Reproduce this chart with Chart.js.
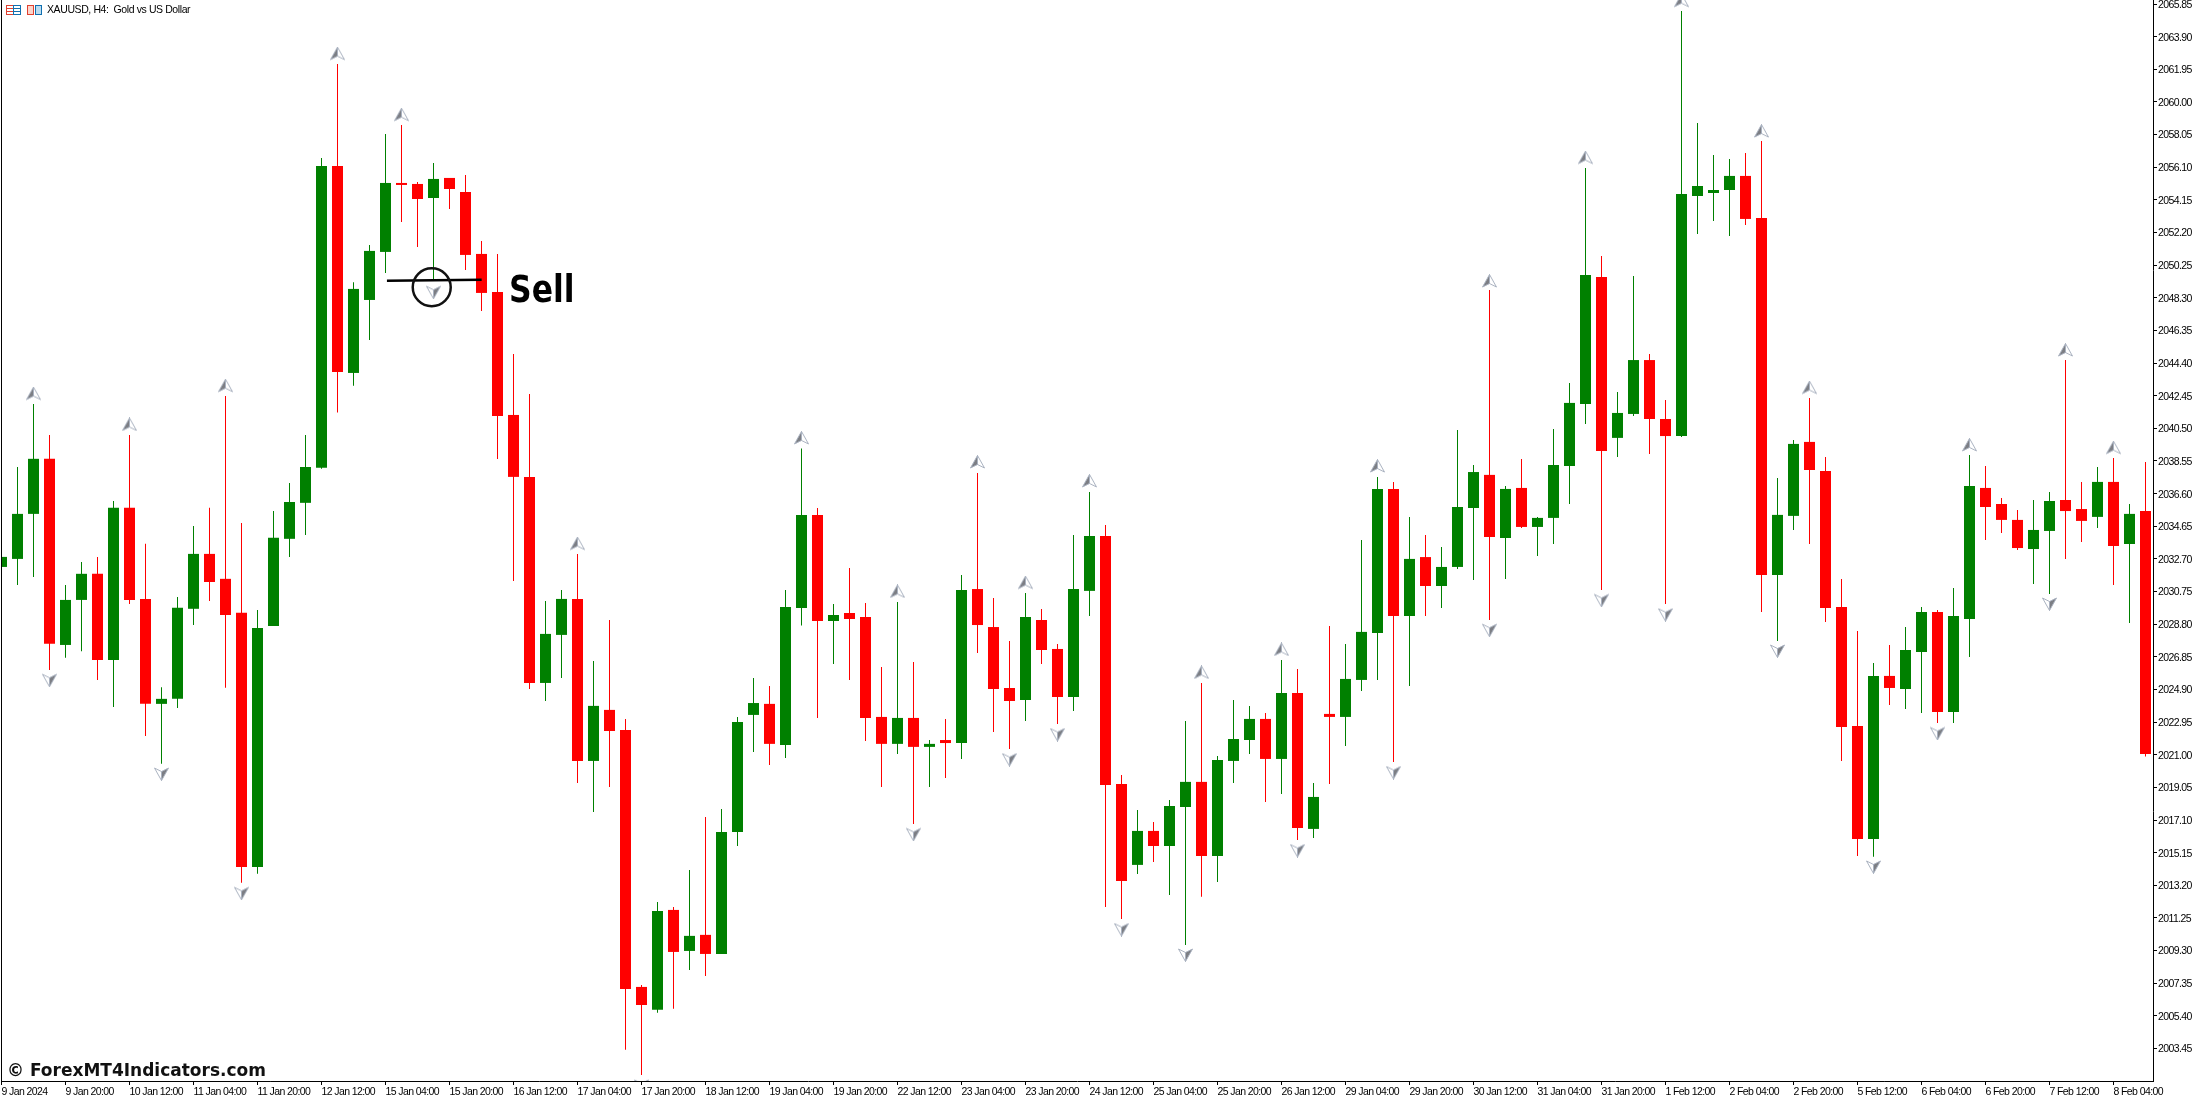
<!DOCTYPE html>
<html>
<head>
<meta charset="utf-8">
<title>XAUUSD, H4</title>
<script src="https://cdn.jsdelivr.net/npm/chart.js@4/dist/chart.umd.min.js"></script>
<style>
  html, body { margin: 0; padding: 0; background: #fff; }
  canvas { display: block; }
</style>
</head>
<body>
<canvas id="chart" width="2196" height="1100"></canvas>
<script>
const opens = [2032.22,2032.70,2035.39,2038.68,2027.56,2030.25,2031.81,2026.66,2035.75,2030.31,
  2024.04,2024.34,2029.72,2033.00,2031.51,2029.48,2014.29,2028.69,2033.90,2036.05,
  2038.14,2056.17,2043.81,2048.17,2051.04,2055.16,2055.10,2054.26,2055.46,2054.62,
  2050.92,2048.65,2041.30,2037.60,2025.29,2028.16,2030.31,2020.63,2023.68,2022.48,
  2007.13,2005.76,2011.73,2009.28,2010.24,2009.10,2016.39,2023.38,2024.04,2021.59,
  2029.77,2035.33,2028.99,2029.47,2029.23,2023.26,2021.65,2023.20,2021.47,2021.88,
  2021.70,2030.90,2028.63,2024.99,2024.27,2029.05,2027.32,2024.45,2030.79,2034.07,
  2019.26,2014.42,2016.45,2015.55,2017.88,2019.38,2014.95,2020.63,2021.88,2023.14,
  2020.75,2024.69,2016.57,2023.44,2023.26,2025.47,2028.28,2036.88,2029.29,2032.81,
  2031.08,2032.22,2035.74,2037.72,2033.95,2036.94,2034.61,2035.15,2038.25,2041.96,
  2049.54,2039.93,2041.36,2044.58,2041.06,2040.04,2054.38,2054.56,2054.74,2055.58,
  2053.07,2031.74,2035.27,2039.69,2037.95,2029.83,2022.72,2015.97,2025.71,2024.93,
  2027.14,2029.53,2023.56,2029.11,2036.94,2035.98,2035.03,2033.29,2034.37,2036.22,
  2035.68,2035.21,2037.30,2033.59,2035.56];
const highs = [2032.82,2038.19,2041.96,2040.10,2031.14,2032.51,2032.81,2036.16,2040.10,2033.60,
  2025.04,2030.42,2034.66,2035.75,2042.43,2034.85,2029.65,2035.56,2037.24,2040.10,
  2056.65,2062.27,2049.23,2051.45,2058.09,2058.62,2055.22,2056.35,2055.46,2055.64,
  2051.69,2050.92,2044.94,2042.55,2030.19,2030.84,2033.00,2026.60,2029.05,2023.14,
  2007.25,2012.21,2011.91,2014.12,2017.28,2017.76,2023.26,2025.59,2025.11,2030.84,
  2039.30,2035.74,2030.01,2032.16,2030.07,2026.25,2030.13,2026.54,2021.88,2023.14,
  2031.74,2037.83,2030.37,2027.80,2030.67,2029.71,2027.62,2034.13,2036.70,2034.73,
  2019.79,2017.70,2016.99,2018.30,2023.02,2025.29,2020.93,2024.27,2023.92,2023.50,
  2026.66,2026.13,2019.32,2028.69,2027.62,2033.83,2037.60,2037.30,2035.21,2034.13,
  2033.41,2040.40,2038.31,2048.77,2037.06,2038.67,2035.21,2040.46,2043.21,2056.05,
  2050.80,2042.67,2049.60,2044.94,2042.20,2065.43,2058.74,2056.83,2056.59,2056.95,
  2057.67,2037.54,2039.81,2042.31,2038.79,2031.50,2028.40,2026.48,2027.56,2028.63,
  2029.83,2029.65,2030.96,2038.91,2038.25,2036.34,2035.62,2036.22,2036.70,2044.58,
  2037.30,2038.19,2038.73,2035.98,2038.49];
const lows = [2032.22,2031.14,2031.62,2026.07,2026.79,2027.19,2025.47,2023.85,2030.01,2022.12,
  2020.46,2023.80,2028.75,2030.18,2025.00,2013.35,2013.89,2028.69,2032.81,2034.13,
  2038.08,2041.44,2043.05,2045.78,2049.78,2052.83,2051.33,2049.30,2053.60,2049.96,
  2047.51,2038.67,2031.38,2024.93,2024.21,2025.59,2019.32,2017.58,2019.08,2003.37,
  2001.87,2005.58,2005.82,2008.14,2007.79,2009.10,2015.55,2021.17,2020.39,2020.81,
  2028.72,2023.20,2026.42,2025.47,2021.82,2019.08,2021.05,2016.87,2019.08,2019.61,
  2020.75,2027.08,2022.36,2021.35,2023.02,2026.42,2022.84,2023.62,2029.29,2011.91,
  2011.19,2013.88,2014.60,2012.62,2009.64,2012.51,2013.40,2019.32,2021.05,2018.18,
  2018.66,2015.91,2016.03,2019.26,2021.53,2024.81,2025.47,2020.57,2025.11,2029.29,
  2029.77,2032.10,2031.44,2029.05,2031.50,2034.55,2032.88,2033.59,2035.98,2040.76,
  2030.84,2038.79,2041.24,2038.97,2030.01,2039.98,2052.11,2052.89,2051.99,2052.65,
  2029.53,2027.80,2034.43,2033.59,2028.93,2020.63,2014.95,2014.90,2023.98,2023.74,
  2023.50,2022.90,2022.90,2026.84,2033.83,2034.25,2033.23,2031.20,2030.61,2032.70,
  2033.71,2034.55,2031.14,2028.87,2020.90];
const closes = [2032.82,2035.39,2038.68,2027.63,2030.25,2031.81,2026.66,2035.75,2030.25,2024.04,
  2024.34,2029.78,2033.00,2031.32,2029.35,2014.29,2028.58,2033.96,2036.10,2038.19,
  2056.17,2043.87,2048.83,2051.10,2055.16,2055.04,2054.20,2055.40,2054.80,2050.86,
  2048.59,2041.24,2037.60,2025.29,2028.22,2030.31,2020.63,2023.92,2022.42,2007.01,
  2006.05,2011.67,2009.22,2010.18,2009.10,2016.39,2022.96,2024.09,2021.65,2029.83,
  2035.33,2028.99,2029.35,2029.11,2023.20,2021.65,2023.20,2021.47,2021.65,2021.70,
  2030.84,2028.75,2024.93,2024.21,2029.23,2027.26,2024.45,2030.90,2034.07,2019.20,
  2013.46,2016.45,2015.55,2017.94,2019.38,2014.95,2020.69,2021.94,2023.14,2020.75,
  2024.69,2016.63,2018.48,2023.26,2025.53,2028.34,2036.88,2029.29,2032.70,2031.08,
  2032.22,2035.80,2037.89,2034.01,2036.88,2034.61,2035.15,2038.31,2042.02,2049.66,
  2039.15,2041.42,2044.58,2041.06,2040.04,2054.50,2054.98,2054.74,2055.58,2053.01,
  2031.74,2035.33,2039.57,2038.01,2029.77,2022.66,2015.97,2025.71,2024.99,2027.26,
  2029.53,2023.56,2029.29,2037.06,2035.80,2035.03,2033.35,2034.43,2036.16,2035.56,
  2034.97,2037.30,2033.47,2035.39,2021.05];

const upArrowBars = [2,8,14,21,25,36,50,56,61,64,68,75,80,86,93,99,105,110,113,123,129,132];
const upArrowPrices = [2042.58,2040.73,2043.05,2062.89,2059.24,2033.62,2039.93,2030.76,2038.49,2031.29,2037.36,
  2025.92,2027.29,2038.25,2049.30,2056.68,2066.05,2058.26,2042.94,2039.51,2045.18,2039.35];
const downArrowBars = [3,10,15,27,40,57,63,66,70,74,81,87,93,100,104,111,117,121,128];
const downArrowPrices = [2025.45,2019.85,2012.72,2048.63,2001.22,2016.24,2020.71,2022.21,2010.56,2009.04,2015.28,
  2019.94,2028.44,2030.22,2029.37,2027.20,2014.30,2022.27,2030.01];

const sellLineBars = [24.09, 30.01];
const sellLinePrices = [2049.32, 2049.38];
const sellCircleBar = [26.89];
const sellCirclePrice = [2048.93];

const priceTicks = [2065.85,2063.90,2061.95,2060.00,2058.05,2056.10,2054.15,2052.20,2050.25,2048.30,2046.35,
  2044.40,2042.45,2040.50,2038.55,2036.60,2034.65,2032.70,2030.75,2028.80,2026.85,2024.90,2022.95,2021.00,
  2019.05,2017.10,2015.15,2013.20,2011.25,2009.30,2007.35,2005.40,2003.45];
const timeTicks = [0,4,8,12,16,20,24,28,32,36,40,44,48,52,56,60,64,68,72,76,80,84,88,92,96,100,104,108,112,116,120,124,128,132];
const timeLabels = ["9 Jan 2024","9 Jan 20:00","10 Jan 12:00","11 Jan 04:00","11 Jan 20:00","12 Jan 12:00",
  "15 Jan 04:00","15 Jan 20:00","16 Jan 12:00","17 Jan 04:00","17 Jan 20:00","18 Jan 12:00","19 Jan 04:00",
  "19 Jan 20:00","22 Jan 12:00","23 Jan 04:00","23 Jan 20:00","24 Jan 12:00","25 Jan 04:00","25 Jan 20:00",
  "26 Jan 12:00","29 Jan 04:00","29 Jan 20:00","30 Jan 12:00","31 Jan 04:00","31 Jan 20:00","1 Feb 12:00",
  "2 Feb 04:00","2 Feb 20:00","5 Feb 12:00","6 Feb 04:00","6 Feb 20:00","7 Feb 12:00","8 Feb 04:00"];

const GREEN = '#008000';
const RED = '#ff0000';

// little arrows the indicator paints over the candles
function makeArrow(up) {
  const c = document.createElement('canvas');
  c.width = 15;
  c.height = 14;
  const g = c.getContext('2d');
  if (!up) { g.translate(15, 14); g.scale(-1, -1); }
  g.beginPath();
  g.moveTo(7.5, 0.5); g.lineTo(14.5, 13); g.lineTo(7.5, 9.5); g.closePath();
  g.fillStyle = '#ffffff';
  g.fill();
  g.strokeStyle = '#aab2c0';
  g.lineWidth = 1;
  g.stroke();
  g.beginPath();
  g.moveTo(7.5, 0.5); g.lineTo(0.5, 13); g.lineTo(7.5, 9.5); g.closePath();
  g.fillStyle = '#7c7e84';
  g.fill();
  g.strokeStyle = '#aab2c0';
  g.stroke();
  return c;
}

const overlay = {
  id: 'overlay',
  beforeDraw(chart) {
    chart.ctx.letterSpacing = '-0.6px';
  },
  afterDraw(chart) {
    const ctx = chart.ctx;
    const area = chart.chartArea;
    ctx.save();
    ctx.letterSpacing = '0px';
    ctx.fillStyle = '#000';
    ctx.fillRect(area.left, area.top, 1, area.bottom - area.top);

    ctx.textBaseline = 'alphabetic';
    ctx.textAlign = 'left';

    // the pasted "Sell" label is narrower than plain DejaVu bold
    ctx.save();
    ctx.translate(509, 302);
    ctx.scale(0.85, 1);
    ctx.font = 'bold 37px "DejaVu Sans"';
    ctx.fillText('Sell', 0, 0);
    ctx.restore();

    ctx.font = 'bold 17px "DejaVu Sans"';
    ctx.fillStyle = '#111';
    ctx.fillText('© ForexMT4Indicators.com', 7, 1076);

    ctx.fillStyle = '#000';
    ctx.font = '10.5px "Liberation Sans"';
    ctx.letterSpacing = '-0.4px';
    ctx.fillText('XAUUSD, H4:  Gold vs US Dollar', 47, 13);
    ctx.letterSpacing = '0px';

    // chart window icons, top left
    ctx.lineWidth = 1;
    ctx.strokeStyle = '#e04030';
    ctx.strokeRect(6.5, 5.5, 7, 9);
    ctx.strokeRect(27.5, 5.5, 6, 9);
    ctx.fillStyle = '#fbd5cc';
    ctx.fillRect(28, 6, 5, 8);
    ctx.fillStyle = '#e04030';
    ctx.fillRect(7, 8, 6, 1);
    ctx.fillRect(7, 11, 6, 1);
    ctx.strokeStyle = '#1070b0';
    ctx.strokeRect(13.5, 5.5, 7, 9);
    ctx.strokeRect(35.5, 5.5, 6, 9);
    ctx.fillStyle = '#bcdcf0';
    ctx.fillRect(36, 6, 5, 8);
    ctx.fillStyle = '#1070b0';
    ctx.fillRect(14, 8, 6, 1);
    ctx.fillRect(14, 11, 6, 1);
    ctx.restore();
  }
};

const candleColors = opens.map((o, i) => closes[i] >= o ? GREEN : RED);

new Chart(document.getElementById('chart'), {
  type: 'bar',
  plugins: [overlay],
  data: {
    datasets: [
      {
        data: opens.map((o, i) => ({ x: i, y: [lows[i], highs[i]] })),
        backgroundColor: candleColors,
        grouped: false,
        barPercentage: 1,
        categoryPercentage: 1,
        maxBarThickness: 1,
        inflateAmount: 0,
        order: 5
      },
      {
        data: opens.map((o, i) => ({ x: i, y: [o, closes[i]] })),
        backgroundColor: candleColors,
        grouped: false,
        barPercentage: 1,
        categoryPercentage: 1,
        maxBarThickness: 11,
        inflateAmount: 0,
        order: 4
      },
      {
        type: 'scatter',
        data: upArrowBars.map((b, i) => ({ x: b, y: upArrowPrices[i] })),
        pointStyle: makeArrow(true),
        pointRadius: 7.5,
        order: 3
      },
      {
        type: 'scatter',
        data: downArrowBars.map((b, i) => ({ x: b, y: downArrowPrices[i] })),
        pointStyle: makeArrow(false),
        pointRadius: 7.5,
        order: 3
      },
      {
        type: 'line',
        data: sellLineBars.map((b, i) => ({ x: b, y: sellLinePrices[i] })),
        borderColor: '#000',
        borderWidth: 2.5,
        pointRadius: 0,
        order: 2
      },
      {
        type: 'scatter',
        data: sellCircleBar.map((b, i) => ({ x: b, y: sellCirclePrice[i] })),
        pointStyle: 'circle',
        pointRadius: 19,
        pointBorderWidth: 2.5,
        pointBorderColor: '#111',
        pointBackgroundColor: 'rgba(0,0,0,0)',
        order: 1
      }
    ]
  },
  options: {
    responsive: false,
    animation: false,
    events: [],
    layout: { autoPadding: false, padding: { left: 1, right: 0, top: 0, bottom: 0 } },
    plugins: { legend: { display: false }, tooltip: { enabled: false }, title: { display: false } },
    scales: {
      x: {
        type: 'linear',
        offset: false,
        min: -0.03125,
        max: 134.46875,
        grid: { offset: false, drawOnChartArea: false, drawTicks: true, tickLength: 4, tickColor: '#000' },
        border: { color: '#000', width: 1 },
        afterBuildTicks: axis => { axis.ticks = timeTicks.map(v => ({ value: v })); },
        afterFit: axis => {
          axis.height = 19;
          axis.paddingLeft = 0;
          axis.paddingRight = 0;
        },
        ticks: {
          autoSkip: false,
          maxRotation: 0,
          minRotation: 0,
          align: 'start',
          padding: 1,
          color: '#000',
          font: { family: '"Liberation Sans"', size: 10.5 },
          callback: v => timeLabels[timeTicks.indexOf(v)]
        }
      },
      y: {
        type: 'linear',
        position: 'right',
        min: 2001.51,
        max: 2066.09,
        grid: { drawOnChartArea: false, drawTicks: true, tickLength: 4, tickColor: '#000' },
        border: { color: '#000', width: 1 },
        afterBuildTicks: axis => { axis.ticks = priceTicks.map(v => ({ value: v })); },
        afterFit: axis => {
          axis.width = 43;
          axis.paddingTop = 0;
          axis.paddingBottom = 0;
        },
        ticks: {
          autoSkip: false,
          padding: 1,
          labelOffset: 1,
          color: '#000',
          font: { family: '"Liberation Sans"', size: 10.5 },
          callback: v => v.toFixed(2)
        }
      }
    }
  }
});
</script>
</body>
</html>
